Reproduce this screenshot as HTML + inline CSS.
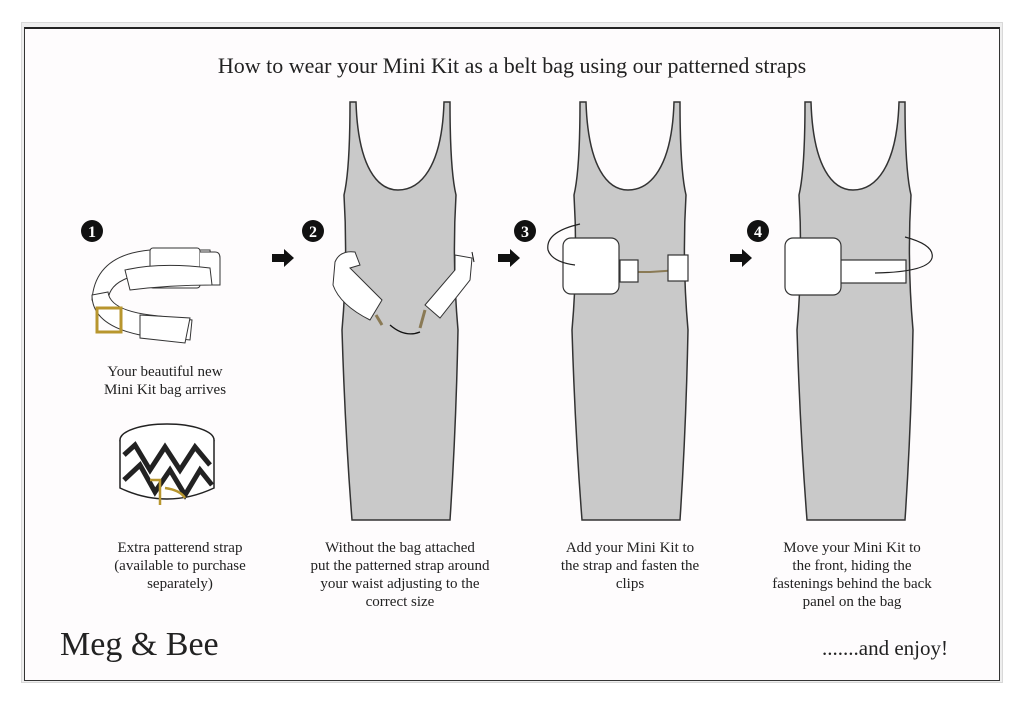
<!DOCTYPE html>
<html><head><meta charset="utf-8"><style>
html,body{margin:0;padding:0;background:#fff;}
body{width:1024px;height:705px;position:relative;overflow:hidden;font-family:"Liberation Serif",serif;color:#222;}
.t{position:absolute;text-align:center;font-size:15px;line-height:18px;}
</style></head><body>
<div style="position:absolute;left:21px;top:22px;width:980px;height:659px;border:1px solid #d8d8d8;background:#eee"></div>
<div style="position:absolute;left:24px;top:27px;width:974px;height:651px;border:1px solid #333;border-top:2px solid #222;background:#fefcfd"></div>
<div class="t" style="left:0;width:1024px;top:53px;font-size:22px;line-height:26px;">How to wear your Mini Kit as a belt bag using our patterned straps</div>
<svg width="1024" height="705" style="position:absolute;left:0;top:0">
<defs>
<path id="dr" d="M-50,102 L-44,102 C-42,168 -22,190 -2,190 C20,190 42,168 44,102 L50,102 Q50,170 56,195 Q52,262 58,330 Q56,430 50,520 L-48,520 Q-55,430 -58,330 Q-52,262 -56,195 Q-50,170 -50,102 Z" fill="#c9c9c9" stroke="#333" stroke-width="1.5"/>
<g id="num"><circle r="11" fill="#111"/></g>
<path id="ar" d="M-12,-4 L0,-4 L0,-9 L10,0 L0,9 L0,4 L-12,4 Z" fill="#111"/>
</defs>
<use href="#dr" x="400"/><use href="#dr" x="630"/><use href="#dr" x="855"/>
<g><use href="#num" x="92" y="231"/><text x="92" y="237" fill="#fff" font-size="16" font-weight="bold" text-anchor="middle" font-family="Liberation Serif">1</text></g>
<g><use href="#num" x="313" y="231"/><text x="313" y="237" fill="#fff" font-size="16" font-weight="bold" text-anchor="middle" font-family="Liberation Serif">2</text></g>
<g><use href="#num" x="525" y="231"/><text x="525" y="237" fill="#fff" font-size="16" font-weight="bold" text-anchor="middle" font-family="Liberation Serif">3</text></g>
<g><use href="#num" x="758" y="231"/><text x="758" y="237" fill="#fff" font-size="16" font-weight="bold" text-anchor="middle" font-family="Liberation Serif">4</text></g>
<use href="#ar" x="284" y="258"/><use href="#ar" x="510" y="258"/><use href="#ar" x="742" y="258"/>
<g fill="#fff" stroke="#333" stroke-width="1">
<path d="M92,300 Q95,255 150,250 L210,250 L212,270 L160,272 Q110,275 108,300 Z"/>
<rect x="150" y="248" width="50" height="40" rx="3"/>
<path d="M200,252 L215,252 Q220,252 220,258 L220,285 L200,285"/>
<path d="M125,270 Q160,262 210,268 L212,285 Q170,285 130,290 Z"/>
<path d="M92,295 Q92,325 140,335 L190,340 L192,320 L150,315 Q110,310 108,292 Z"/>
<path d="M140,315 L190,318 L185,343 L140,338 Z"/>
</g>
<rect x="97" y="308" width="24" height="24" fill="none" stroke="#b8962e" stroke-width="3"/>
<g stroke="#222" stroke-width="1.5" fill="#fff">
<ellipse cx="167" cy="440" rx="47" ry="16"/>
<path d="M120,440 L120,488 Q167,510 214,488 L214,440"/>
<path d="M124,455 L135,445 L150,470 L165,447 L180,470 L195,447 L210,465" fill="none" stroke-width="5"/>
<path d="M124,480 L140,465 L155,492 L170,470 L185,495 L200,470 L212,485" fill="none" stroke-width="5"/>
</g>
<path d="M150,480 L160,480 L160,505 M165,488 Q180,490 185,498" fill="none" stroke="#b8962e" stroke-width="2.5"/>
<g fill="#fff" stroke="#333" stroke-width="1">
<path d="M335,262 Q340,250 355,252 L360,265 L350,268 L382,300 L370,320 Q340,305 333,285 Z"/>
<path d="M455,255 L472,258 L470,280 L440,318 L425,305 L455,270 Z"/>
</g>
<path d="M376,315 L382,325 M425,310 L420,328" stroke="#8a7a55" stroke-width="3"/>
<path d="M390,325 Q405,338 420,332" fill="none" stroke="#111" stroke-width="1.3"/>
<path d="M474,262 L472,252" stroke="#111"/>
<path d="M615,272 L650,272 L680,270" stroke="#8a7a55" stroke-width="2" fill="none"/>
<g fill="#fff" stroke="#333" stroke-width="1.2">
<rect x="620" y="260" width="18" height="22"/>
<rect x="668" y="255" width="20" height="26"/>
<rect x="563" y="238" width="56" height="56" rx="8"/>
</g>
<path d="M580,224 Q545,232 548,250 Q552,262 575,265" fill="none" stroke="#222" stroke-width="1.2"/>
<g fill="#fff" stroke="#333" stroke-width="1.2">
<rect x="838" y="260" width="68" height="23"/>
<rect x="785" y="238" width="56" height="57" rx="8"/>
</g>
<path d="M905,237 Q935,245 932,258 Q928,272 875,273" fill="none" stroke="#222" stroke-width="1.2"/>
</svg>
<div class="t" style="left:70px;width:190px;top:363px;">Your beautiful new<br>Mini Kit bag arrives</div>
<div class="t" style="left:85px;width:190px;top:539px;">Extra patterend strap<br>(available to purchase<br>separately)</div>
<div class="t" style="left:285px;width:230px;top:539px;">Without the bag attached<br>put the patterned strap around<br>your waist adjusting to the<br>correct size</div>
<div class="t" style="left:525px;width:210px;top:539px;">Add your Mini Kit to<br>the strap and fasten the<br>clips</div>
<div class="t" style="left:742px;width:220px;top:539px;">Move your Mini Kit to<br>the front, hiding the<br>fastenings behind the back<br>panel on the bag</div>
<div style="position:absolute;left:60px;top:626px;font-size:34px;">Meg &amp; Bee</div>
<div style="position:absolute;left:822px;top:636px;font-size:21px;">.......and enjoy!</div>
</body></html>
